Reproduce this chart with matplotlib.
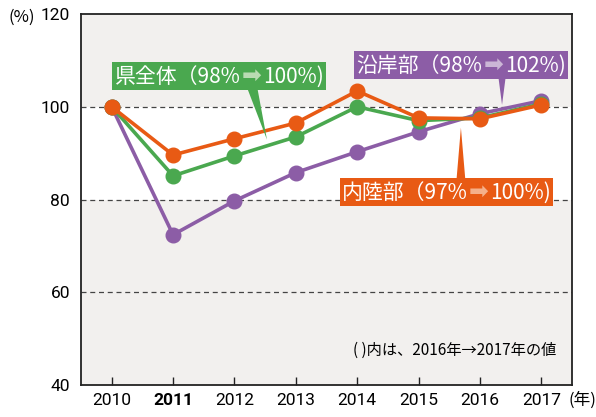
import matplotlib
matplotlib.use("Agg")
import matplotlib.pyplot as plt
from matplotlib.offsetbox import TextArea, HPacker, AnnotationBbox
from matplotlib.patches import Polygon

plt.rcParams['font.family'] = ['Noto Sans CJK JP', 'DejaVu Sans']

years = [2010, 2011, 2012, 2013, 2014, 2015, 2016, 2017]
year_labels = ['2010', '2011', '2012', '2013', '2014', '2015', '2016', '2017']
coastal = [100, 72.4, 79.7, 85.8, 90.3, 94.6, 98.5, 101.3]   # 沿岸部
prefecture = [100, 85.1, 89.4, 93.5, 100.0, 97.0, 97.6, 100.6]  # 県全体
inland = [100, 89.6, 93.1, 96.5, 103.4, 97.6, 97.4, 100.4]  # 内陸部
yticks = [40, 60, 80, 100, 120]

c_purple = '#8c5da6'
c_green = '#4aa84f'
c_orange = '#e85a14'
c_bg = '#f2f0ee'

fig = plt.figure(figsize=(5.96, 4.17), dpi=100)
ax = fig.add_axes([81/596, 32/417, 491/596, 371/417])
ax.set_xlim(2009.5, 2017.5)
ax.set_ylim(40, 120)

# background bands
ax.axhspan(100, 120, color=c_bg, zorder=0, lw=0)
ax.axhspan(40, 80, color=c_bg, zorder=0, lw=0)
for yv in (60, 80, 100):
    ax.axhline(yv, color='#444444', lw=0.9, ls=(0, (4, 3)), zorder=1)

lw = 2.6
ms = 10.5
ax.plot(years, coastal, color=c_purple, lw=lw, marker='o', ms=ms, zorder=3)
ax.plot(years, prefecture, color=c_green, lw=lw, marker='o', ms=ms, zorder=4)
ax.plot(years, inland, color=c_orange, lw=lw, marker='o', ms=ms, zorder=5)

for s in ax.spines.values():
    s.set_color('#222222')
    s.set_linewidth(1.3)

tick_family = ['Roboto', 'DejaVu Sans']
ax.set_xticks(years)
ax.set_xticklabels(year_labels, fontsize=12.5, family=tick_family)
for t in ax.get_xticklabels():
    if t.get_text() == '2011':
        t.set_fontweight('bold')
ax.tick_params(axis='x', direction='in', length=6, width=1, color='#222222', pad=6)
ax.set_yticks(yticks)
ax.set_yticklabels([str(v) for v in yticks], fontsize=12.5, family=tick_family)
ax.tick_params(axis='y', length=0, pad=8)

fig.text(8/596, 1 - 17/417, '(%)', fontsize=12, va='center', ha='left')
fig.text(1.0, 1 - 400/417, '(年)', fontsize=12, va='center', ha='right')

ax.text(2017.25, 47.5, '( )内は、2016年→2017年の値', fontsize=11, ha='right', va='center')

def callout(xc, yc, name, a, b, fc, arrowc, tri):
    fp = dict(color='white', fontsize=15, family=['Noto Sans CJK JP', 'DejaVu Sans'])
    ta1 = TextArea(name + '（' + a, textprops=fp)
    ta2 = TextArea('➡', textprops=dict(color=arrowc, fontsize=17, family=['DejaVu Sans']))
    ta3 = TextArea(b + ')', textprops=fp)
    box = HPacker(children=[ta1, ta2, ta3], align='baseline', pad=0, sep=1)
    ab = AnnotationBbox(box, (xc, yc), xycoords='data', frameon=True,
                        box_alignment=(0.5, 0.5), pad=0.12,
                        bboxprops=dict(fc=fc, ec='none', boxstyle='square,pad=0.15'))
    ab.set_zorder(7)
    ax.add_artist(ab)
    poly = Polygon(tri, closed=True, fc=fc, ec='none', zorder=6)
    ax.add_patch(poly)

callout(2011.75, 106.6, '県全体', '98%', '100%', c_green, '#b9dbb2',
        [(2012.18, 105.0), (2012.36, 105.0), (2012.53, 92.9)])
callout(2015.69, 109.05, '沿岸部', '98%', '102%', c_purple, '#cbb6d6',
        [(2016.29, 107.5), (2016.43, 107.5), (2016.36, 100.4)])
callout(2015.45, 81.7, '内陸部', '97%', '100%', c_orange, '#f5b08a',
        [(2015.61, 83.0), (2015.77, 83.0), (2015.69, 95.5)])

fig.savefig('out.png', dpi=100)
